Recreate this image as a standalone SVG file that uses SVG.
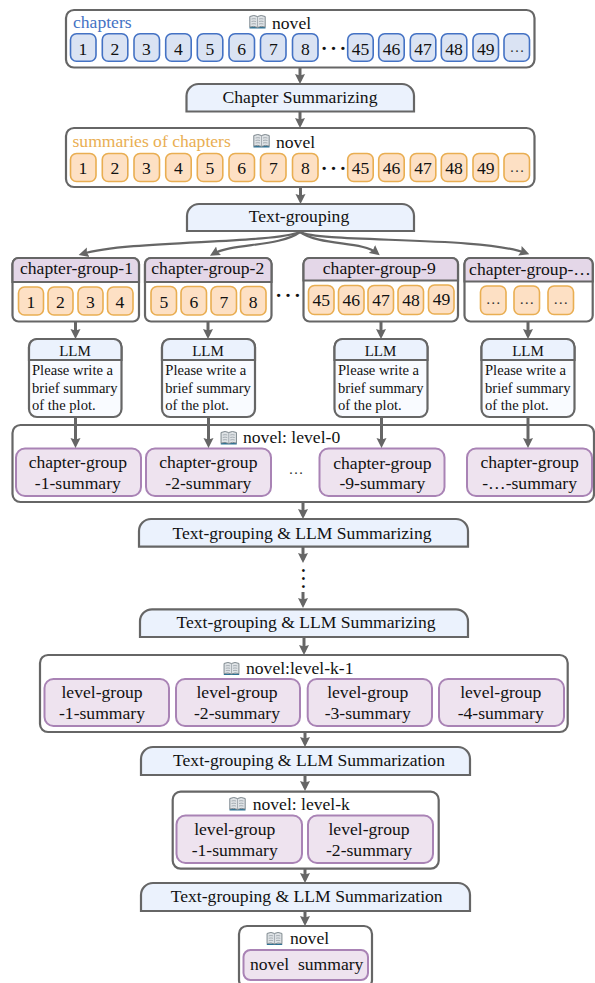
<svg xmlns="http://www.w3.org/2000/svg" width="595" height="983" viewBox="0 0 595 983">
<style>
text{font-family:"Liberation Serif","Times New Roman",serif;font-size:17.6px;fill:#111;text-anchor:middle}
.l{text-anchor:start}
.box{fill:#fff;stroke:#666;stroke-width:2.2}
.trap{fill:#ebf2fd;stroke:#666;stroke-width:2.2}
.hdr{fill:#e4d7e8;stroke:#666;stroke-width:2.2}
.llmh{fill:#ebf2fd;stroke:#666;stroke-width:2.2}
.llmb{fill:#f9fbff;stroke:#666;stroke-width:2.2}
.b{fill:#dae3f3;stroke:#4472c4;stroke-width:1.6}
.o{fill:#fde0c4;stroke:#e9ae52;stroke-width:1.6}
.p{fill:#eee3ef;stroke:#a983b5;stroke-width:2}
.s{font-size:14.6px}
.e{font-size:15px;fill:#333}
.line{fill:none;stroke:#666;stroke-width:3;marker-end:url(#ah)}
.curve{fill:none;stroke:#666;stroke-width:2.2;marker-end:url(#ah)}
.d{font-size:28px}
.v{font-size:24px}
</style>
<defs>
<marker id="ah" markerUnits="userSpaceOnUse" markerWidth="11" markerHeight="11" refX="6.500" refY="5.500" orient="auto"><path d="M0,0.500 L10,5.500 L0,10.500 L1.500,5.500 Z" fill="#666"/></marker>
<symbol id="book" viewBox="0 0 17 14" overflow="visible">
<path d="M0.500,13.500 H16.500 V12 H0.500 Z" fill="#2f7396"/>
<path d="M0.800,1.500 Q5,-0.500 8.500,1.500 Q12,-0.500 16.200,1.500 V12 Q12,10.500 8.500,12.500 Q5,10.500 0.800,12 Z" fill="#dfe3e6" stroke="#7d878d" stroke-width="1"/>
<path d="M8.500,1.500 V12.500 M2.500,4 Q5,3.300 7,4 M2.500,6.500 Q5,5.800 7,6.500 M2.500,9 Q5,8.300 7,9 M10,4 Q12,3.300 14.500,4 M10,6.500 Q12,5.800 14.500,6.500 M10,9 Q12,8.300 14.500,9" fill="none" stroke="#97a0a6" stroke-width="0.800"/>
</symbol>
</defs>

<g id="connectors">
<path class="line" d="M300,68 V80.500"/>
<path class="line" d="M300,112 V124.500"/>
<path class="line" d="M300.500,188 V200.500"/>
<path class="curve" d="M300,232 C270,244 130,240 82,254"/>
<path class="curve" d="M300,232 C280,247 232,243 213,254"/>
<path class="curve" d="M300,232 C320,246 362,241 377,253"/>
<path class="curve" d="M300,232 C320,243 480,236 526,253"/>
<path class="line" d="M75.500,322 V335.500"/>
<path class="line" d="M208,322 V335.500"/>
<path class="line" d="M381,322 V335.500"/>
<path class="line" d="M528,322 V335.500"/>
<path class="line" d="M303,503 V515.500"/>
<path class="line" d="M303,547 V559.500"/>
<path class="line" d="M303,592 V604.500"/>
<path class="line" d="M304,638 V651.500"/>
<path class="line" d="M305,733 V743.500"/>
<path class="line" d="M305,776 V787.500"/>
<path class="line" d="M305,869 V879.500"/>
<path class="line" d="M305,912 V922.500"/>
</g>

<g id="chapters">
<rect class="box" x="66" y="10" width="468.500" height="57.500" rx="8"/>
<text class="l" x="73" y="28" style="fill:#4472c4">chapters</text>
<use href="#book" x="249" y="15" width="17" height="14"/>
<text class="l" x="272" y="29">novel</text>
<rect class="b" x="70.500" y="33.700" width="25.500" height="27.500" rx="6"/><text x="83" y="54.500">1</text>
<rect class="b" x="102.300" y="33.700" width="25.500" height="27.500" rx="6"/><text x="115" y="54.500">2</text>
<rect class="b" x="134" y="33.700" width="25.500" height="27.500" rx="6"/><text x="146.500" y="54.500">3</text>
<rect class="b" x="165.700" y="33.700" width="25.500" height="27.500" rx="6"/><text x="178.500" y="54.500">4</text>
<rect class="b" x="197.300" y="33.700" width="25.500" height="27.500" rx="6"/><text x="210" y="54.500">5</text>
<rect class="b" x="229" y="33.700" width="25.500" height="27.500" rx="6"/><text x="241.700" y="54.500">6</text>
<rect class="b" x="260.500" y="33.700" width="25.500" height="27.500" rx="6"/><text x="273.300" y="54.500">7</text>
<rect class="b" x="292.500" y="33.700" width="25.500" height="27.500" rx="6"/><text x="305.300" y="54.500">8</text>
<text class="l d" x="319.500" y="50">…</text>
<rect class="b" x="347.700" y="33.700" width="25.500" height="27.500" rx="6"/><text x="360.500" y="54.500">45</text>
<rect class="b" x="378.700" y="33.700" width="25.500" height="27.500" rx="6"/><text x="391.500" y="54.500">46</text>
<rect class="b" x="410.300" y="33.700" width="25.500" height="27.500" rx="6"/><text x="423" y="54.500">47</text>
<rect class="b" x="441.300" y="33.700" width="25.500" height="27.500" rx="6"/><text x="454" y="54.500">48</text>
<rect class="b" x="473" y="33.700" width="25.500" height="27.500" rx="6"/><text x="485.700" y="54.500">49</text>
<rect class="b" x="504" y="33.700" width="25.500" height="27.500" rx="6"/><text class="e" x="517" y="52">…</text>
</g>

<g id="chapter-summarizing">
<path class="trap" d="M186.500,111.500 V96 A12,12 0 0 1 198.500,84 H402 A12,12 0 0 1 414,96 V111.500 Z"/>
<text x="300" y="103">Chapter Summarizing</text>
</g>

<g id="summaries">
<rect class="box" x="66" y="128" width="468.500" height="59" rx="8"/>
<text class="l" x="72.500" y="147" style="fill:#e9ae52">summaries of chapters</text>
<use href="#book" x="253" y="134" width="17" height="14"/>
<text class="l" x="276" y="148">novel</text>
<rect class="o" x="70.500" y="153.500" width="25.500" height="28" rx="6"/><text x="83" y="174">1</text>
<rect class="o" x="102.300" y="153.500" width="25.500" height="28" rx="6"/><text x="115" y="174">2</text>
<rect class="o" x="134" y="153.500" width="25.500" height="28" rx="6"/><text x="146.500" y="174">3</text>
<rect class="o" x="165.700" y="153.500" width="25.500" height="28" rx="6"/><text x="178.500" y="174">4</text>
<rect class="o" x="197.300" y="153.500" width="25.500" height="28" rx="6"/><text x="210" y="174">5</text>
<rect class="o" x="229" y="153.500" width="25.500" height="28" rx="6"/><text x="241.700" y="174">6</text>
<rect class="o" x="260.500" y="153.500" width="25.500" height="28" rx="6"/><text x="273.300" y="174">7</text>
<rect class="o" x="292.500" y="153.500" width="25.500" height="28" rx="6"/><text x="305.300" y="174">8</text>
<text class="l d" x="319.500" y="170">…</text>
<rect class="o" x="347.700" y="153.500" width="25.500" height="28" rx="6"/><text x="360.500" y="174">45</text>
<rect class="o" x="378.700" y="153.500" width="25.500" height="28" rx="6"/><text x="391.500" y="174">46</text>
<rect class="o" x="410.300" y="153.500" width="25.500" height="28" rx="6"/><text x="423" y="174">47</text>
<rect class="o" x="441.300" y="153.500" width="25.500" height="28" rx="6"/><text x="454" y="174">48</text>
<rect class="o" x="473" y="153.500" width="25.500" height="28" rx="6"/><text x="485.700" y="174">49</text>
<rect class="o" x="504" y="153.500" width="25.500" height="28" rx="6"/><text class="e" x="517" y="172">…</text>
</g>

<g id="text-grouping">
<path class="trap" d="M187,231 V216 A12,12 0 0 1 199,204 H402 A12,12 0 0 1 414,216 V231 Z"/>
<text x="299" y="222">Text-grouping</text>
</g>

<g id="chapter-group-1">
<rect class="box" x="12.500" y="258" width="126.500" height="63.500" rx="6"/>
<path class="hdr" d="M12.500,282 V264 A6,6 0 0 1 18.500,258 H133 A6,6 0 0 1 139,264 V282 Z"/>
<text x="76.500" y="274">chapter-group-1</text>
<rect class="o" x="18.500" y="287" width="25" height="28" rx="6"/><text x="31" y="308">1</text>
<rect class="o" x="48" y="287" width="25" height="28" rx="6"/><text x="60.500" y="308">2</text>
<rect class="o" x="78" y="287" width="25" height="28" rx="6"/><text x="90.500" y="308">3</text>
<rect class="o" x="107.500" y="287" width="25.500" height="28" rx="6"/><text x="120" y="308">4</text>
</g>
<g id="chapter-group-2">
<rect class="box" x="145" y="258" width="126.500" height="63.500" rx="6"/>
<path class="hdr" d="M145,282 V264 A6,6 0 0 1 151,258 H265.500 A6,6 0 0 1 271.500,264 V282 Z"/>
<text x="207.800" y="274">chapter-group-2</text>
<rect class="o" x="151" y="286.500" width="25.500" height="28.500" rx="6"/><text x="163.800" y="307.500">5</text>
<rect class="o" x="181" y="286.500" width="25.500" height="28.500" rx="6"/><text x="193.800" y="307.500">6</text>
<rect class="o" x="211" y="286.500" width="25.500" height="28.500" rx="6"/><text x="223.800" y="307.500">7</text>
<rect class="o" x="240.500" y="286.500" width="25.500" height="28.500" rx="6"/><text x="253.200" y="307.500">8</text>
</g>
<text class="l d" x="274" y="297">…</text>
<g id="chapter-group-9">
<rect class="box" x="303.500" y="258" width="154.500" height="63.500" rx="6"/>
<path class="hdr" d="M303.500,280.500 V264 A6,6 0 0 1 309.500,258 H452 A6,6 0 0 1 458,264 V280.500 Z"/>
<text x="379.300" y="274">chapter-group-9</text>
<rect class="o" x="308.500" y="285.500" width="25.500" height="29" rx="6"/><text x="321.200" y="306">45</text>
<rect class="o" x="338.500" y="285.500" width="25.500" height="29" rx="6"/><text x="351.200" y="306">46</text>
<rect class="o" x="368" y="285.500" width="25.500" height="29" rx="6"/><text x="381" y="306">47</text>
<rect class="o" x="398" y="285.500" width="25.500" height="29" rx="6"/><text x="411" y="306">48</text>
<rect class="o" x="428.500" y="285" width="25.500" height="29" rx="6"/><text x="441.500" y="305">49</text>
</g>
<g id="chapter-group-etc">
<rect class="box" x="464.500" y="258" width="128.200" height="63.500" rx="6"/>
<path class="hdr" d="M464.500,281.500 V264 A6,6 0 0 1 470.500,258 H586.700 A6,6 0 0 1 592.700,264 V281.500 Z"/>
<text x="530" y="275">chapter-group-…</text>
<rect class="o" x="480.500" y="286" width="25.500" height="28.500" rx="6"/><text class="e" x="493.200" y="304">…</text>
<rect class="o" x="514" y="286" width="25.500" height="28.500" rx="6"/><text class="e" x="526.800" y="304">…</text>
<rect class="o" x="548" y="286" width="25.500" height="28.500" rx="6"/><text class="e" x="560.800" y="304">…</text>
</g>

<g id="llm-1">
<rect class="llmb" x="29" y="339" width="92.500" height="78" rx="8"/>
<path class="llmh" d="M29,360 V347 A8,8 0 0 1 37,339 H113.500 A8,8 0 0 1 121.500,347 V360 Z"/>
<text x="75" y="356" style="font-size:15px">LLM</text>
<text class="s l" x="32" y="375">Please write a</text><text class="s l" x="32" y="392.500">brief summary</text><text class="s l" x="32" y="410">of the plot.</text>
</g>
<g id="llm-2">
<rect class="llmb" x="162" y="339" width="93" height="78" rx="8"/>
<path class="llmh" d="M162,360 V347 A8,8 0 0 1 170,339 H247 A8,8 0 0 1 255,347 V360 Z"/>
<text x="208" y="356" style="font-size:15px">LLM</text>
<text class="s l" x="165.300" y="375">Please write a</text><text class="s l" x="165.300" y="392.500">brief summary</text><text class="s l" x="165.300" y="410">of the plot.</text>
</g>
<g id="llm-9">
<rect class="llmb" x="334.500" y="339" width="93" height="78" rx="8"/>
<path class="llmh" d="M334.500,360 V347 A8,8 0 0 1 342.500,339 H419.500 A8,8 0 0 1 427.500,347 V360 Z"/>
<text x="380.500" y="356" style="font-size:15px">LLM</text>
<text class="s l" x="338" y="375">Please write a</text><text class="s l" x="338" y="392.500">brief summary</text><text class="s l" x="338" y="410">of the plot.</text>
</g>
<g id="llm-etc">
<rect class="llmb" x="481.500" y="339" width="93" height="78" rx="8"/>
<path class="llmh" d="M481.500,360 V347 A8,8 0 0 1 489.500,339 H566.500 A8,8 0 0 1 574.500,347 V360 Z"/>
<text x="528" y="356" style="font-size:15px">LLM</text>
<text class="s l" x="485" y="375">Please write a</text><text class="s l" x="485" y="392.500">brief summary</text><text class="s l" x="485" y="410">of the plot.</text>
</g>

<g id="level-0">
<rect class="box" x="12.500" y="425" width="581.500" height="77" rx="8"/>
<use href="#book" x="220" y="431" width="17.500" height="14"/>
<text class="l" x="243" y="443">novel: level-0</text>
<rect class="p" x="16" y="448.500" width="125" height="47.500" rx="9"/><text x="77.800" y="467.500">chapter-group</text><text x="77.800" y="488.500">-1-summary</text>
<rect class="p" x="146" y="448.500" width="125" height="47.500" rx="9"/><text x="208.300" y="467.500">chapter-group</text><text x="208.300" y="488.500">-2-summary</text>
<text class="e" x="296" y="474">…</text>
<rect class="p" x="319.500" y="448.500" width="125" height="47.500" rx="9"/><text x="382.400" y="468.500">chapter-group</text><text x="382.400" y="489">-9-summary</text>
<rect class="p" x="467" y="448.500" width="125" height="47.500" rx="9"/><text x="529.600" y="467.500">chapter-group</text><text x="529.600" y="488.500">-…-summary</text>
</g>

<g id="connectors-level-0">
<path class="line" d="M75.500,417 V444.500"/>
<path class="line" d="M208.500,417 V444.500"/>
<path class="line" d="M381.500,417 V444.500"/>
<path class="line" d="M528,417 V444.500"/>
</g>

<g id="group-summarizing-1">
<path class="trap" d="M139,546.700 V531 A12,12 0 0 1 151,519 H456 A12,12 0 0 1 468,531 V546.700 Z"/>
<text x="302" y="539">Text-grouping &amp; LLM Summarizing</text>
</g>
<text class="l v" transform="translate(302,566.500) rotate(90)">…</text>
<g id="group-summarizing-2">
<path class="trap" d="M140,637 V621.300 A12,12 0 0 1 152,609.300 H456 A12,12 0 0 1 468,621.300 V637 Z"/>
<text x="306" y="627.500">Text-grouping &amp; LLM Summarizing</text>
</g>

<g id="level-k-1">
<rect class="box" x="40" y="655" width="527.700" height="77" rx="8"/>
<use href="#book" x="223" y="662" width="17" height="13.500"/>
<text class="l" x="246" y="674">novel:level-k-1</text>
<rect class="p" x="44.500" y="679" width="124.500" height="47" rx="9"/><text x="102" y="698">level-group</text><text x="102" y="719">-1-summary</text>
<rect class="p" x="176" y="679" width="124" height="47" rx="9"/><text x="237" y="698">level-group</text><text x="237" y="719">-2-summary</text>
<rect class="p" x="307.700" y="679" width="124.300" height="47" rx="9"/><text x="367.700" y="698">level-group</text><text x="367.700" y="719">-3-summary</text>
<rect class="p" x="439" y="679" width="125" height="47" rx="9"/><text x="500.700" y="698">level-group</text><text x="500.700" y="719">-4-summary</text>
</g>

<g id="group-summarization-1">
<path class="trap" d="M141,775 V759 A12,12 0 0 1 153,747 H458 A12,12 0 0 1 470,759 V775 Z"/>
<text x="309" y="765.500">Text-grouping &amp; LLM Summarization</text>
</g>

<g id="level-k">
<rect class="box" x="172.700" y="791.700" width="266" height="77" rx="8"/>
<use href="#book" x="229" y="797" width="17" height="14"/>
<text class="l" x="252.700" y="810">novel: level-k</text>
<rect class="p" x="176.500" y="815.500" width="125.500" height="47.500" rx="9"/><text x="234.700" y="835">level-group</text><text x="234.700" y="856">-1-summary</text>
<rect class="p" x="308" y="815.500" width="125" height="47.500" rx="9"/><text x="369" y="835">level-group</text><text x="369" y="856">-2-summary</text>
</g>

<g id="group-summarization-2">
<path class="trap" d="M141,911 V895 A12,12 0 0 1 153,883 H458 A12,12 0 0 1 470,895 V911 Z"/>
<text x="306.700" y="902">Text-grouping &amp; LLM Summarization</text>
</g>

<g id="novel">
<rect class="box" x="239" y="926" width="133" height="62" rx="8"/>
<use href="#book" x="266" y="932" width="17" height="13.500"/>
<text class="l" x="290" y="944">novel</text>
<rect class="p" x="243.500" y="950" width="124.500" height="30" rx="7"/>
<text class="l" x="250" y="970" xml:space="preserve" style="white-space:pre">novel  summary</text>
</g>
</svg>
